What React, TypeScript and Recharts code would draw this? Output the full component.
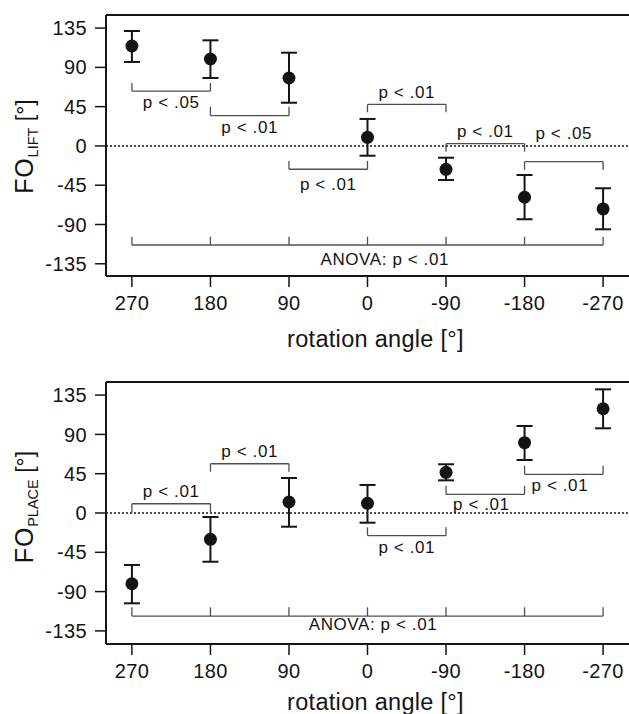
import React from 'react';
import { ScatterChart, Scatter, XAxis, YAxis, ErrorBar, ReferenceLine, ReferenceDot } from 'recharts';

const FONT = 'Liberation Sans, Arial, Helvetica, sans-serif';
const INK = '#141414';
const BRACKET = '#505050';

// rotation angles (x categories) and y ticks
const angleLabels = ['270', '180', '90', '0', '-90', '-180', '-270'];
const angleIdx = [0, 1, 2, 3, 4, 5, 6];
const yTicks = [-135, -90, -45, 0, 45, 90, 135];

// FO lift
const liftMean = [114.5, 99.6, 77.8, 9.9, -26.8, -58.8, -72.2];
const liftUpper = [131.7, 121, 106.8, 30.9, -13.5, -33.3, -48.5];
const liftLower = [96.2, 77.8, 49.5, -11.2, -39, -84, -95.5];

// FO place
const placeMean = [-81, -30.1, 12.6, 11.1, 46.6, 80.5, 119.4];
const placeUpper = [-59.5, -4.6, 40.1, 32.1, 55.8, 99.6, 141.6];
const placeLower = [-103.4, -55.8, -15.7, -11.1, 37.4, 60.7, 97];

// pairwise brackets: [from, to, lineY, tipY, label, labelX, labelY]
type Bracket = [number, number, number, number, string, number, number];
const liftBrackets: Bracket[] = [
  [0, 1, 62.9, 72.1, 'p < .05', 0.5, 43.1],
  [1, 2, 34.7, 45, 'p < .01', 1.5, 15.2],
  [2, 3, -26.7, -17.2, 'p < .01', 2.5, -50.5],
  [3, 4, 47.7, 38.5, 'p < .01', 3.5, 55.3],
  [4, 5, 2.6, -6.6, 'p < .01', 4.5, 10.6],
  [5, 6, -18, -27.5, 'p < .05', 5.5, 7.6],
];
const placeBrackets: Bracket[] = [
  [0, 1, 10.6, 0.3, 'p < .01', 0.5, 18.3],
  [1, 2, 56.4, 47.3, 'p < .01', 1.5, 63.8],
  [3, 4, -26, -16.4, 'p < .01', 3.5, -46.2],
  [4, 5, 21.4, 31.1, 'p < .01', 4.45, 3.4],
  [5, 6, 44.3, 54.2, 'p < .01', 5.45, 25.5],
];
// ANOVA bracket: [lineY, tipY, labelX, labelY]
const liftAnova = [-113.5, -104, 3.22, -136.4];
const placeAnova = [-118, -108, 3.07, -133.6];

const labelText = (text: string) => (p: any) => (
  <text x={p.cx} y={p.cy} textAnchor="middle" fill={INK} fontSize={17} fontFamily={FONT} letterSpacing={0.6}>
    {text}
  </text>
);

function bracketLines(brackets: Bracket[], anova: number[]) {
  const out: React.ReactNode[] = [];
  const seg = (key: string, x1: number, y1: number, x2: number, y2: number) => (
    <ReferenceLine key={key} segment={[{ x: x1, y: y1 }, { x: x2, y: y2 }]} stroke={BRACKET} strokeWidth={1.3} ifOverflow="visible" />
  );
  brackets.forEach(([a, b, ly, ty, label, lx, lyLabel], k) => {
    out.push(seg(`h${k}`, a, ly, b, ly));
    out.push(seg(`ta${k}`, a, ty, a, ly));
    out.push(seg(`tb${k}`, b, ty, b, ly));
    out.push(<ReferenceDot key={`l${k}`} x={lx} y={lyLabel} r={1} ifOverflow="visible" shape={labelText(label)} />);
  });
  const [ly, ty, lx, lyLabel] = anova;
  out.push(seg('ah', 0, ly, 6, ly));
  angleIdx.forEach((i) => out.push(seg(`at${i}`, i, ty, i, ly)));
  out.push(<ReferenceDot key="al" x={lx} y={lyLabel} r={1} ifOverflow="visible" shape={labelText('ANOVA: p < .01')} />);
  return out;
}

type PanelProps = {
  mean: number[];
  upper: number[];
  lower: number[];
  brackets: Bracket[];
  anova: number[];
  sub: string;
  height: number;
  top: number;
  axisH: number;
  domain: [number, number];
  titleY: number;
  yShift: number;
};

function Panel({ mean, upper, lower, brackets, anova, sub, height, top, axisH, domain, titleY, yShift }: PanelProps) {
  const data = angleIdx.map((i) => ({ i, mean: mean[i], err: [mean[i] - lower[i], upper[i] - mean[i]] }));
  return (
    <ScatterChart width={629} height={height} margin={{ top, right: 0, bottom: 0, left: 0 }}>
      <XAxis
        type="number"
        dataKey="i"
        domain={[-0.33, 6.33]}
        allowDataOverflow
        ticks={angleIdx}
        interval={0}
        tickFormatter={(v: number) => angleLabels[v]}
        height={axisH}
        tickSize={11}
        tickMargin={9}
        axisLine={{ stroke: INK, strokeWidth: 2 }}
        tickLine={{ stroke: INK, strokeWidth: 1.5 }}
        tick={{ fill: INK, fontSize: 20, fontFamily: FONT, letterSpacing: 0.4 }}
        label={{
          content: (p: any) => {
            const vb = p.viewBox;
            return (
              <text x={vb.x + vb.width / 2 + 8} y={vb.y + titleY} textAnchor="middle" fill={INK} fontSize={23.5} fontFamily={FONT} letterSpacing={0.3}>
                rotation angle [°]
              </text>
            );
          },
        }}
      />
      <YAxis
        type="number"
        dataKey="mean"
        domain={domain}
        allowDataOverflow
        ticks={yTicks}
        interval={0}
        width={106}
        tickSize={11}
        tickMargin={8}
        axisLine={{ stroke: INK, strokeWidth: 2 }}
        tickLine={{ stroke: INK, strokeWidth: 1.5 }}
        tick={{ fill: INK, fontSize: 20, fontFamily: FONT, letterSpacing: 0.4 }}
        label={{
          content: (p: any) => {
            const vb = p.viewBox;
            const cx = 33;
            const cy = vb.y + vb.height / 2 + yShift;
            return (
              <text transform={`rotate(-90 ${cx} ${cy})`} x={cx} y={cy} textAnchor="middle" fill={INK} fontFamily={FONT}>
                <tspan fontSize={25} letterSpacing={0.8}>FO</tspan>
                <tspan fontSize={14.5} dy={5}>{sub}</tspan>
                <tspan fontSize={23} dy={-5}>{'\u00A0[°]'}</tspan>
              </text>
            );
          },
        }}
      />
      <ReferenceLine y={domain[1]} stroke={INK} strokeWidth={2} ifOverflow="visible" />
      <ReferenceLine y={0} stroke={INK} strokeWidth={1.5} strokeDasharray="2 2" />
      {bracketLines(brackets, anova)}
      <Scatter
        data={data}
        dataKey="mean"
        isAnimationActive={false}
        shape={(p: any) => <circle cx={p.cx} cy={p.cy} r={6.5} fill={INK} />}
      >
        <ErrorBar dataKey="err" direction="y" width={8} stroke={INK} strokeWidth={2} isAnimationActive={false} />
      </Scatter>
    </ScatterChart>
  );
}

export default function App() {
  return (
    <div style={{ position: 'absolute', left: 0, top: 0, width: 629, height: 714, background: '#fff', fontFamily: FONT }}>
      <Panel
        mean={liftMean}
        upper={liftUpper}
        lower={liftLower}
        brackets={liftBrackets}
        anova={liftAnova}
        sub="LIFT"
        height={357}
        top={15}
        axisH={81}
        domain={[-149, 150]}
        titleY={71}
        yShift={1}
      />
      <Panel
        mean={placeMean}
        upper={placeUpper}
        lower={placeLower}
        brackets={placeBrackets}
        anova={placeAnova}
        sub="PLACE"
        height={357}
        top={25}
        axisH={70}
        domain={[-150, 150]}
        titleY={66}
        yShift={-6}
      />
    </div>
  );
}
